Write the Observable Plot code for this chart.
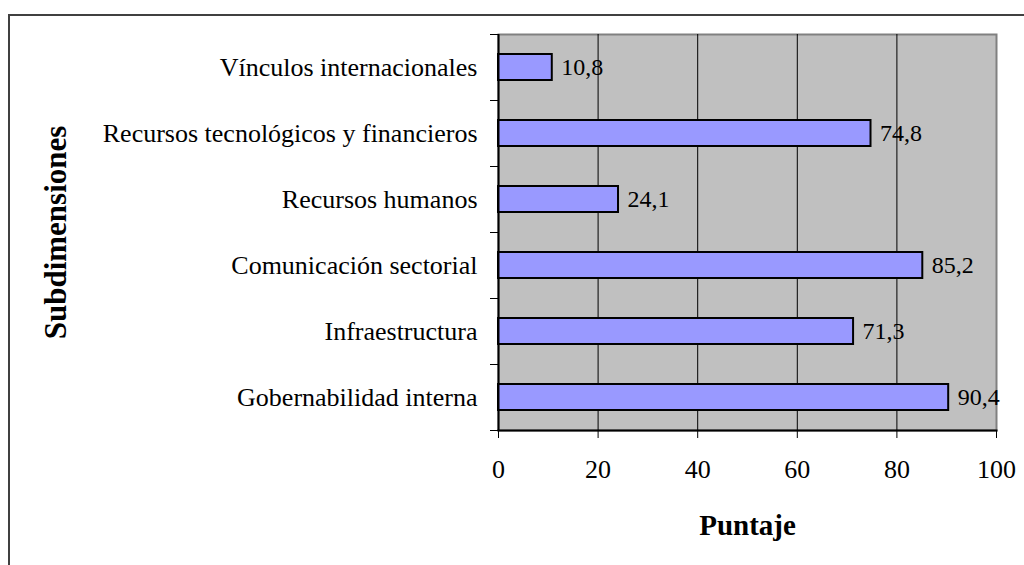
<!DOCTYPE html>
<html>
<head>
<meta charset="utf-8">
<script src="https://cdn.jsdelivr.net/npm/d3@7"></script>
<script src="https://cdn.jsdelivr.net/npm/@observablehq/plot@0.6"></script>
<style>
  html, body { margin: 0; padding: 0; background: #fff; overflow: hidden; }
  #wrap { position: relative; width: 1024px; height: 565px; }
  #border { position: absolute; left: 8px; top: 14px; width: 1100px; height: 700px;
            border-left: 2px solid #404040; border-top: 2px solid #404040; }
  #chart { position: absolute; left: 0; top: 0; }
  #chart svg, #chart svg text { font-family: "Liberation Serif", "Times New Roman", serif; }
</style>
</head>
<body>
<div id="wrap">
  <div id="border"></div>
  <div id="chart"></div>
</div>
<script>
const categories = [
  "Vínculos internacionales",
  "Recursos tecnológicos y financieros",
  "Recursos humanos",
  "Comunicación sectorial",
  "Infraestructura",
  "Gobernabilidad interna"
];
const values = [10.8, 74.8, 24.1, 85.2, 71.3, 90.4];
const xTicks = [0, 20, 40, 60, 80, 100];
const gridLines = [20, 40, 60, 80];
const xTitle = "Puntaje";
const yTitle = "Subdimensiones";

const data = categories.map((name, i) => ({name, value: values[i]}));
const fmt = v => v.toFixed(1).replace(".", ",");
const serif = "Liberation Serif";

const chart = Plot.plot({
  width: 1024,
  height: 565,
  marginLeft: 498,
  marginRight: 28,
  marginTop: 34,
  marginBottom: 135,
  style: {fontFamily: serif, color: "black", background: "transparent", overflow: "visible"},
  x: {domain: [0, 100]},
  y: {domain: categories, paddingInner: 0.6, paddingOuter: 0.3},
  marks: [
    Plot.frame({fill: "#c0c0c0", stroke: "#808080", strokeWidth: 2}),
    Plot.ruleX(gridLines, {stroke: "black", strokeWidth: 1}),
    Plot.barX(data, {x: "value", y: "name", fill: "#9999ff", stroke: "black", strokeWidth: 2}),
    Plot.text(data, {x: "value", y: "name", text: d => fmt(d.value), dx: 9, textAnchor: "start", fontSize: 24, fontFamily: serif, fill: "black"}),
    Plot.ruleX([0], {stroke: "black", strokeWidth: 2}),
    Plot.frame({anchor: "bottom", stroke: "black", strokeWidth: 2}),
    Plot.axisX({ticks: xTicks, tickSize: 8, tickPadding: 21, fontSize: 26, fontFamily: serif, label: null, tickFormat: d => String(d)}),
    Plot.axisY({tickSize: 0, tickPadding: 21, fontSize: 26, fontFamily: serif, label: null}),
    Plot.axisY({tickSize: 8, text: null, label: null, dy: -33}),
    Plot.axisY({tickSize: 8, text: null, label: null, dy: 33}),
    Plot.text([xTitle], {frameAnchor: "bottom", dy: 95, fontSize: 29, fontWeight: "bold", fontFamily: serif, lineAnchor: "middle", textAnchor: "middle", fill: "black"}),
    Plot.text([yTitle], {frameAnchor: "left", dx: -442, rotate: -90, fontSize: 31, fontWeight: "bold", fontFamily: serif, lineAnchor: "middle", textAnchor: "middle", fill: "black"})
  ]
});
document.getElementById("chart").appendChild(chart);
</script>
</body>
</html>
